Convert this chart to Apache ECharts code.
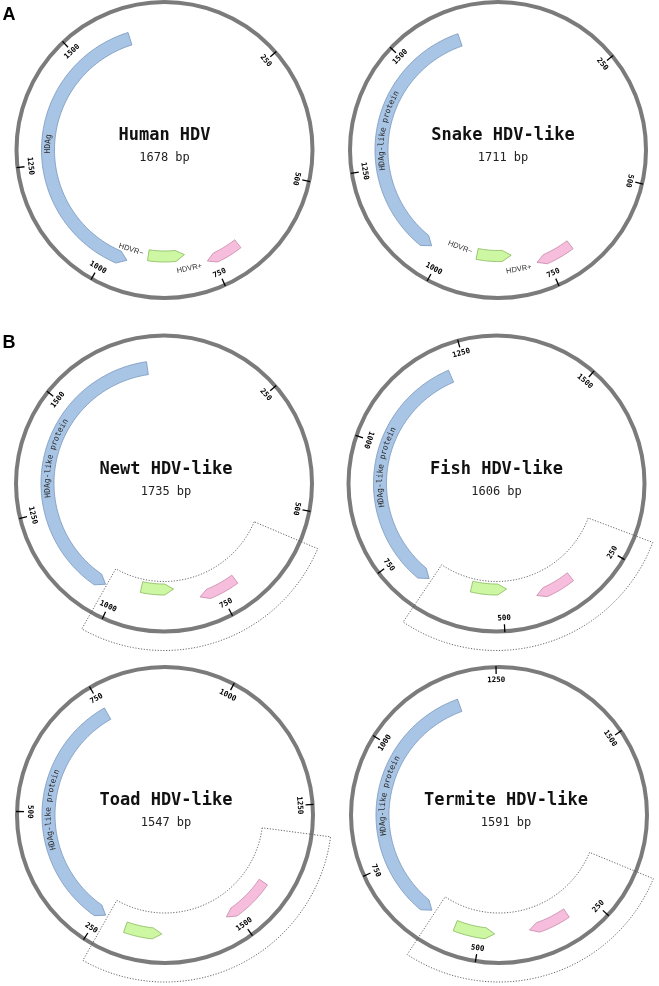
<!DOCTYPE html>
<html><head><meta charset="utf-8">
<script src="https://cdn.jsdelivr.net/npm/echarts@6/dist/echarts.min.js"></script>
<style>html,body{margin:0;padding:0;background:#fff}#c{width:659px;height:986px}</style>
</head><body><div id="c"></div>
<script>
// ---------------- DATA ----------------
const genomeNames   = ['Human HDV', 'Snake HDV-like', 'Newt HDV-like', 'Fish HDV-like', 'Toad HDV-like', 'Termite HDV-like'];
const genomeLengths = [1678, 1711, 1735, 1606, 1547, 1591];
// position (degrees clockwise from 12 o'clock) where base 0 sits on each map
const originAngle   = [-5, -2, -3, 64.7, 155, 76];
const hdagLabels    = ['HDAg', 'HDAg-like protein', 'HDAg-like protein', 'HDAg-like protein', 'HDAg-like protein', 'HDAg-like protein'];
const hdagStart     = [1621, 1630, 1710, 1215, 754, 1168];
const hdagEnd       = [950, 1030, 1027, 672, 239, 615];
const hdvrMinusStart = [903, 919, 941, 575, 191, 555];
const hdvrMinusEnd   = [812, 831, 857, 490, 114, 469];
const hdvrPlusStart  = [685, 688, 706, 343, 1415, 307];
const hdvrPlusEnd    = [764, 774, 797, 426, 1521, 394];
const hdvrLabels     = ['HDVR\u2212', 'HDVR+'];
const showHdvrLabels = [true, true, false, false, false, false];
const regionStart    = [null, null, 559, 205, 1300, 161];
const regionEnd      = [null, null, 1024, 666, 234, 607];
const tickValues     = [250, 500, 750, 1000, 1250, 1500];
const panelLetters   = ['A', 'B'];

// ---------------- LAYOUT / STYLE ----------------
const centers = [[164.5, 150], [498, 150], [164, 483.5], [496.5, 483.5], [165, 815], [499, 815]];
const R = 148;
const titleDx = [0, 5, 2, 0, 1, 7];
const greenMid = [106.5, 106, 106, 106, 119, 119];
const headPx = 9;
const colors = {
  blue:  {fill: '#a9c5e5', stroke: '#7795bd'},
  green: {fill: '#cdf7a3', stroke: '#86ba5a'},
  pink:  {fill: '#f6bddc', stroke: '#c788aa'}
};
const MONO = '"DejaVu Sans Mono", monospace';

function pt(api, L, r, v) {
  const w = ((v % L) + L) % L;
  const c = api.coord([r, w]);
  return [c[0], c[1]];
}
function arcPts(api, L, r, a, b) {
  const n = Math.max(1, Math.ceil(Math.abs(b - a) / L * 360));
  const out = [];
  for (let k = 0; k <= n; k++) out.push(pt(api, L, r, a + (b - a) * k / n));
  return out;
}
function cwAngle(p, cs) {
  const a = Math.atan2(p[0] - cs.cx, cs.cy - p[1]) * 180 / Math.PI;
  return (a + 360) % 360;
}
function readableRot(th) {
  let rot = (th > 110 && th < 300) ? th - 180 : th;
  if (rot > 180) rot -= 360;
  return -rot * Math.PI / 180;
}
function textEl(x, y, rotation, text, font, fill) {
  return {type: 'text', x: x, y: y, rotation: rotation,
    style: {text: text, font: font, fill: fill, align: 'center', verticalAlign: 'middle',
            textAlign: 'center', textVerticalAlign: 'middle'}};
}

function renderFeature(params, api, p) {
  const L = genomeLengths[p];
  const cs = params.coordSys;
  const s = api.value(0), e = api.value(1), kind = api.value(2);
  let r0, r1, col;
  if (kind === 0) { r0 = 110; r1 = 123; col = colors.blue; }
  else if (kind === 1) { r0 = greenMid[p] - 5.5; r1 = greenMid[p] + 5.5; col = colors.green; }
  else { r0 = 114; r1 = 124; col = colors.pink; }
  const dir = e >= s ? 1 : -1;
  const rm = (r0 + r1) / 2;
  const headBp = headPx / (2 * Math.PI * rm) * L;
  let sh = e - dir * headBp;
  const points = arcPts(api, L, r1, s, sh).concat([pt(api, L, rm, e)], arcPts(api, L, r0, sh, s));
  const children = [{type: 'polygon', shape: {points: points},
    style: {fill: col.fill, stroke: col.stroke, lineWidth: 0.8}}];
  if (kind === 0) {
    const label = hdagLabels[p];
    const n = label.length, fs = 8, cw = fs * 0.602, rt = 116.5;
    const mid = (s + sh) / 2;
    for (let k = 0; k < n; k++) {
      const v = mid + (k - (n - 1) / 2) * cw * L / (2 * Math.PI * rt);
      const q = pt(api, L, rt, v);
      let th = cwAngle(q, cs); if (th > 180) th -= 360;
      children.push(textEl(q[0], q[1], -th * Math.PI / 180, label[k], fs + 'px ' + MONO, '#2a2a2a'));
    }
  } else if (showHdvrLabels[p]) {
    let v, r;
    if (kind === 1) { r = greenMid[p] - 1.5; v = s - dir * 18 / (2 * Math.PI * r) * L; }
    else { r = 121; v = e + dir * 19.5 / (2 * Math.PI * r) * L; }
    const q = pt(api, L, r, v);
    children.push(textEl(q[0], q[1], readableRot(cwAngle(q, cs)), hdvrLabels[kind - 1],
      '7.5px "Liberation Sans", sans-serif', '#333'));
  }
  return {type: 'group', children: children};
}

function renderTick(params, api, p) {
  const L = genomeLengths[p];
  const cs = params.coordSys;
  const v = api.value(0);
  const a = pt(api, L, R + 1, v), b = pt(api, L, R - 7, v), t = pt(api, L, R - 13, v);
  return {type: 'group', children: [
    {type: 'line', shape: {x1: a[0], y1: a[1], x2: b[0], y2: b[1]}, style: {stroke: '#000', lineWidth: 1.3}},
    textEl(t[0], t[1], readableRot(cwAngle(a, cs)), String(v), 'bold 7.5px ' + MONO, '#000')
  ]};
}

function renderRegion(params, api, p) {
  const L = genomeLengths[p];
  const s = api.value(0);
  let e = api.value(1);
  if (e < s) e += L;
  const pts = arcPts(api, L, 98, s, e).concat(arcPts(api, L, 167, e, s));
  return {type: 'polygon', shape: {points: pts},
    style: {fill: null, stroke: '#555', lineWidth: 0.9, lineDash: [1.2, 1.6]}};
}

function renderTitle(params, api, p) {
  const cs = params.coordSys;
  const x = cs.cx + titleDx[p];
  return {type: 'group', children: [
    textEl(x, cs.cy - 14, 0, genomeNames[p], 'bold 17px ' + MONO, '#111'),
    textEl(x, cs.cy + 8, 0, genomeLengths[p] + ' bp', '12px ' + MONO, '#222')
  ]};
}

const polar = [], angleAxis = [], radiusAxis = [], series = [];
genomeNames.forEach((name, i) => {
  const L = genomeLengths[i];
  polar.push({center: centers[i], radius: R});
  angleAxis.push({polarIndex: i, type: 'value', min: 0, max: L,
    startAngle: (90 - originAngle[i] + 360) % 360, clockwise: true,
    axisLine: {show: true, lineStyle: {color: '#7b7b7b', width: 4}},
    axisTick: {show: false}, axisLabel: {show: false}, splitLine: {show: false}, splitArea: {show: false}});
  radiusAxis.push({polarIndex: i, type: 'value', min: 0, max: R, show: false,
    axisLine: {show: false}, axisTick: {show: false}, axisLabel: {show: false}, splitLine: {show: false}});
  series.push({type: 'custom', coordinateSystem: 'polar', polarIndex: i, clip: false, z: 3,
    data: [[hdagStart[i], hdagEnd[i], 0], [hdvrMinusStart[i], hdvrMinusEnd[i], 1], [hdvrPlusStart[i], hdvrPlusEnd[i], 2]],
    renderItem: (params, api) => renderFeature(params, api, i)});
  series.push({type: 'custom', coordinateSystem: 'polar', polarIndex: i, clip: false, z: 4,
    data: tickValues.filter(v => v < L).map(v => [v]),
    renderItem: (params, api) => renderTick(params, api, i)});
  if (regionStart[i] !== null) {
    series.push({type: 'custom', coordinateSystem: 'polar', polarIndex: i, clip: false, z: 5,
      data: [[regionStart[i], regionEnd[i]]],
      renderItem: (params, api) => renderRegion(params, api, i)});
  }
  series.push({type: 'custom', coordinateSystem: 'polar', polarIndex: i, clip: false, z: 6,
    data: [[0, 0]],
    renderItem: (params, api) => renderTitle(params, api, i)});
});

const chart = echarts.init(document.getElementById('c'));
chart.setOption({
  animation: false,
  backgroundColor: '#fff',
  polar: polar,
  angleAxis: angleAxis,
  radiusAxis: radiusAxis,
  graphic: [
    {type: 'text', x: 9, y: 15, style: {text: panelLetters[0], font: 'bold 18px "Liberation Sans", sans-serif', fill: '#000', align: 'center', verticalAlign: 'middle'}},
    {type: 'text', x: 9, y: 343, style: {text: panelLetters[1], font: 'bold 18px "Liberation Sans", sans-serif', fill: '#000', align: 'center', verticalAlign: 'middle'}}
  ],
  series: series
});
</script>
</body></html>
